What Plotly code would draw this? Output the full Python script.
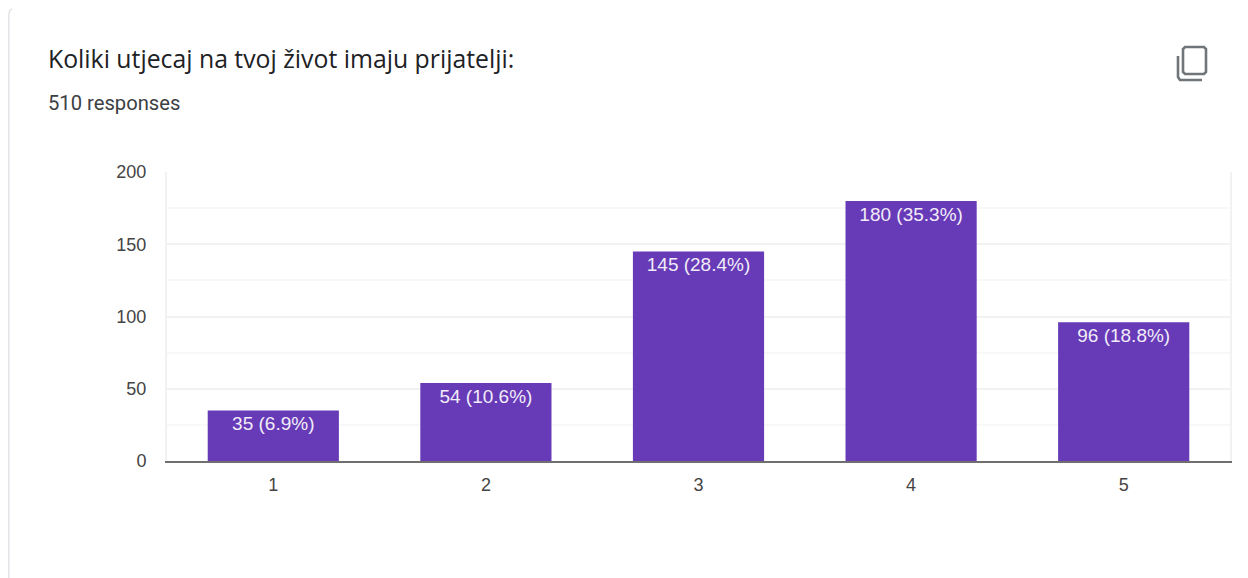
"""Google Forms style response summary: linear scale bar chart."""
import plotly.graph_objects as go

# the page body has an 8px margin, so the figure starts at (8, 8) in the window
W, H = 1240, 570
OFFSET = 8
PLOT_L, PLOT_R, PLOT_T, PLOT_B = 167 - OFFSET, 1230 - OFFSET, 172 - OFFSET, 461 - OFFSET

categories = ["1", "2", "3", "4", "5"]
counts = [35, 54, 145, 180, 96]
percents = ["6.9", "10.6", "28.4", "35.3", "18.8"]
y_ticks = [0, 50, 100, 150, 200]


def px(x):
    return (x - OFFSET - PLOT_L) / (PLOT_R - PLOT_L)


def py(y):
    return (PLOT_B - (y - OFFSET)) / (PLOT_B - PLOT_T)


def pixel_path(points, close=False):
    parts = [f"{'M' if i == 0 else 'L'} {px(x):.5f} {py(y):.5f}" for i, (x, y) in enumerate(points)]
    return " ".join(parts) + (" Z" if close else "")


fig = go.Figure()
fig.add_trace(
    go.Bar(
        x=categories,
        y=counts,
        text=[f"{c} ({p}%)" for c, p in zip(counts, percents)],
        textposition="inside",
        insidetextanchor="end",
        textangle=0,
        constraintext="none",
        textfont={"family": "Liberation Sans", "size": 19, "color": "#f1ecf8"},
        marker={"color": "#673ab7", "line": {"width": 0}},
        width=0.617,
        cliponaxis=False,
        hoverinfo="skip",
    )
)

card = {"color": "#e4e4e8", "width": 1.5}
icon = {"color": "#70757a", "width": 2.6}
shapes = [
    {"type": "path", "xref": "paper", "yref": "paper", "line": card,
     "path": pixel_path([(8.8, 578), (8.8, 15), (9.5, 11), (12, 8.8)])},
    {"type": "path", "xref": "paper", "yref": "paper", "line": icon,
     "path": pixel_path([(1185, 47), (1204, 47), (1206, 49), (1206, 72), (1204, 74), (1185, 74), (1183, 72), (1183, 49)], close=True)},
    {"type": "path", "xref": "paper", "yref": "paper", "line": icon,
     "path": pixel_path([(1178, 56), (1178, 77), (1180, 80), (1202, 80)])},
]

annotations = [
    {"text": "Koliki utjecaj na tvoj život imaju prijatelji:", "x": px(46), "y": py(58),
     "xref": "paper", "yref": "paper", "xanchor": "left", "yanchor": "middle", "showarrow": False,
     "font": {"family": "Open Sans", "size": 24.8, "color": "#202124"}},
    {"text": "510 responses", "x": px(46), "y": py(103),
     "xref": "paper", "yref": "paper", "xanchor": "left", "yanchor": "middle", "showarrow": False,
     "font": {"family": "Roboto", "size": 20.2, "color": "#3c4043"}},
]

fig.update_layout(
    width=W,
    height=H,
    margin={"l": PLOT_L, "r": W - PLOT_R, "t": PLOT_T, "b": H - PLOT_B, "pad": 0},
    paper_bgcolor="#ffffff",
    plot_bgcolor="#ffffff",
    showlegend=False,
    shapes=shapes,
    annotations=annotations,
    xaxis={
        "type": "category",
        "showgrid": False,
        "showline": True,
        "linecolor": "#6f6f6f",
        "linewidth": 2,
        "ticks": "",
        "ticklabelstandoff": 6,
        "tickfont": {"family": "Liberation Sans", "size": 18, "color": "#444444"},
    },
    yaxis={
        "range": [0, 200],
        "tickvals": y_ticks,
        "showgrid": True,
        "gridcolor": "#f2f2f2",
        "gridwidth": 2,
        "minor": {"dtick": 25, "showgrid": True, "gridcolor": "#f8f8f8", "gridwidth": 1.5},
        "zeroline": False,
        "showline": True,
        "mirror": True,
        "linecolor": "#f2f2f2",
        "linewidth": 2,
        "ticks": "",
        "ticklabelstandoff": 15,
        "tickfont": {"family": "Liberation Sans", "size": 18, "color": "#444444"},
    },
)

fig.write_html("out.html", config={"displayModeBar": False})
